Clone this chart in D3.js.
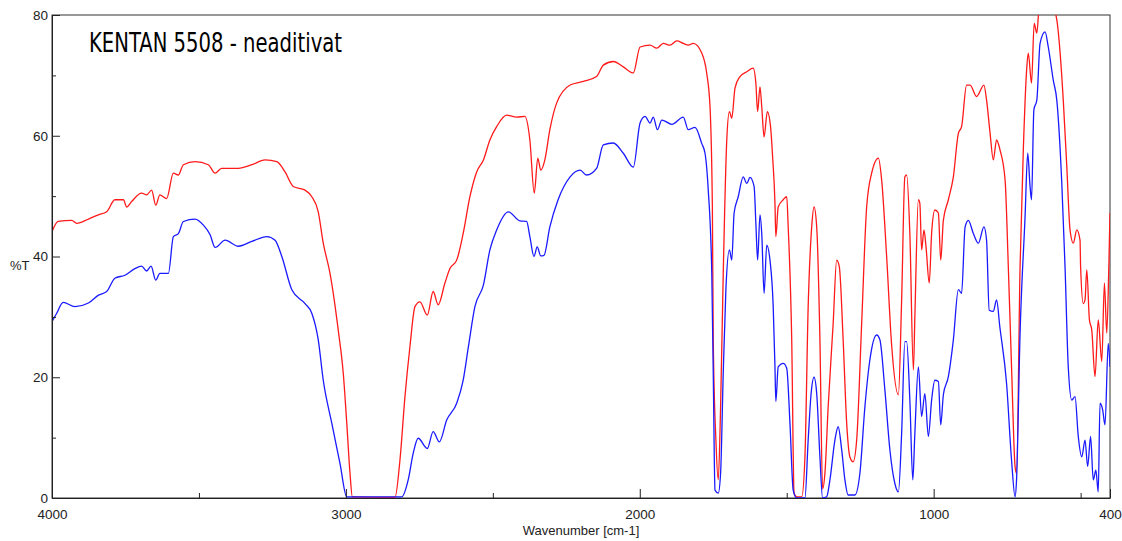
<!DOCTYPE html>
<html>
<head>
<meta charset="utf-8">
<script src="https://cdn.jsdelivr.net/npm/d3@7"></script>
<style>
  html, body { margin: 0; padding: 0; background: #fff; }
  svg { display: block; }
  .axis text { font-family: "Liberation Sans", Arial, sans-serif; font-size: 13.5px; fill: #222; }
  .axis path, .axis line { stroke: #222; }
</style>
</head>
<body>
<script>
// IR spectrum, KENTAN 5508 without additives: wavenumber [cm-1], %T
const title = "KENTAN 5508 - neaditivat";
const xLabel = "Wavenumber [cm-1]";
const yLabel = "%T";

const xMajorTicks = [4000, 3000, 2000, 1000, 400];
const xMinorTicks = [3500, 2500, 1500, 500];
const yMajorTicks = [0, 20, 40, 60, 80];
const yMinorTicks = [10, 30, 50, 70];

// red trace
const redSpectrum = [
  [4000,44.1],[3979,45.8],[3933,46.0],[3916,45.5],[3876,46.2],[3842,46.9],[3814,47.4],[3786,49.4],
  [3757,49.4],[3746,48.2],[3729,49.1],[3695,50.5],[3678,50.2],[3661,51.0],[3647,48.5],[3633,50.2],
  [3610,49.6],[3587,53.8],[3570,53.5],[3553,55.2],[3513,55.7],[3468,55.2],[3445,53.8],[3423,54.6],
  [3366,54.6],[3320,55.2],[3275,56.0],[3235,55.7],[3207,54.0],[3179,51.6],[3139,51.0],[3116,49.9],
  [3094,47.4],[3077,42.2],[3054,37.2],[3026,27.8],[3009,20.7],[2997,12.4],[2986,4.1],[2978,0.2],
  [2833,0.1],[2816,6.3],[2799,16.8],[2782,25.1],[2765,31.7],[2748,32.5],[2723,30.3],[2703,34.2],
  [2686,32.0],[2663,35.6],[2646,38.0],[2623,39.4],[2601,43.8],[2578,49.9],[2555,54.0],[2532,56.0],
  [2510,59.3],[2487,61.5],[2453,63.4],[2419,63.1],[2391,63.2],[2374,59.3],[2359,50.5],[2347,56.3],
  [2337,54.3],[2323,56.0],[2306,61.0],[2283,65.4],[2237,68.4],[2192,69.0],[2147,69.8],[2124,71.7],
  [2090,72.3],[2056,71.4],[2022,70.4],[1999,74.7],[1965,75.0],[1942,74.5],[1920,75.3],[1897,75.0],
  [1874,75.7],[1852,75.3],[1835,75.0],[1818,75.3],[1789,73.7],[1772,70.3],[1761,64.8],[1753,48.2],
  [1750,26.2],[1741,9.6],[1733,3.0],[1725,15.1],[1716,37.2],[1704,59.3],[1695,64.0],[1687,62.9],
  [1676,67.9],[1659,69.8],[1636,70.6],[1614,71.2],[1605,68.7],[1599,64.0],[1591,68.1],[1585,64.8],
  [1577,59.8],[1566,64.0],[1555,61.5],[1548,56.5],[1540,48.8],[1537,43.3],[1529,48.2],[1512,49.4],
  [1500,49.9],[1495,44.9],[1483,26.2],[1475,0.8],[1466,0.2],[1449,0.2],[1438,6.8],[1427,31.7],
  [1415,44.9],[1407,48.2],[1398,44.9],[1387,26.2],[1378,1.5],[1370,4.1],[1359,15.1],[1342,28.9],
  [1330,39.4],[1321,38.3],[1308,26.2],[1296,12.4],[1285,6.8],[1274,6.0],[1262,9.6],[1245,28.9],
  [1228,48.2],[1211,53.8],[1188,56.3],[1177,52.7],[1160,40.0],[1143,25.3],[1120,17.1],[1109,32.8],
  [1098,53.2],[1092,53.5],[1081,43.8],[1069,21.2],[1064,30.0],[1052,49.4],[1047,48.8],[1041,41.1],
  [1033,44.4],[1026,41.6],[1015,35.6],[1007,43.8],[996,47.7],[984,47.2],[976,39.4],[967,46.0],
  [950,49.4],[933,53.2],[916,60.4],[905,61.5],[888,68.4],[876,68.4],[854,66.5],[829,68.4],
  [820,65.9],[808,60.4],[797,56.0],[786,59.3],[774,57.6],[757,52.7],[746,38.3],[735,21.7],
  [723,5.2],[718,4.1],[706,38.3],[695,57.6],[683,71.4],[678,73.7],[667,68.7],[658,78.6],
  [649,77.0],[641,81],[593,81],[581,79.2],[570,73.9],[559,65.9],[547,54.9],[536,44.4],
  [525,42.2],[513,44.4],[502,42.7],[500,38.3],[491,32.2],[485,32.8],[479,37.8],[470,29.5],
  [462,27.8],[451,20.1],[440,29.5],[428,22.6],[419,35.6],[411,27.3],[404,38.3],[400,47.2]
];

// blue trace
const blueSpectrum = [
  [4000,29.2],[3984,30.6],[3962,32.4],[3922,31.7],[3876,32.3],[3842,33.6],[3814,34.2],[3786,36.4],
  [3752,36.9],[3718,38.0],[3695,38.4],[3678,37.6],[3663,38.4],[3647,36.1],[3633,37.2],[3604,37.2],
  [3587,43.3],[3570,43.8],[3553,45.8],[3513,46.2],[3485,45.2],[3462,43.6],[3445,41.5],[3411,42.7],
  [3366,41.7],[3320,42.5],[3269,43.3],[3241,42.7],[3218,40.0],[3184,34.5],[3139,32.2],[3116,30.6],
  [3094,26.2],[3077,19.5],[3048,12.4],[3020,5.7],[2997,0.2],[2810,0.2],[2788,3.0],[2771,7.4],
  [2754,9.9],[2723,8.2],[2703,11.0],[2682,9.3],[2657,12.9],[2623,15.7],[2601,19.5],[2583,25.1],
  [2561,31.7],[2532,35.3],[2510,41.1],[2487,44.4],[2447,47.4],[2408,45.9],[2385,45.8],[2374,43.3],
  [2360,40.0],[2349,41.6],[2337,40.1],[2326,40.2],[2306,44.9],[2278,49.4],[2237,53.2],[2203,54.3],
  [2181,53.5],[2147,54.6],[2124,58.5],[2090,58.8],[2056,57.1],[2022,54.8],[1999,62.1],[1982,63.2],
  [1965,62.1],[1954,63.1],[1940,61.0],[1925,62.6],[1891,61.9],[1852,63.1],[1835,61.0],[1812,61.4],
  [1789,58.7],[1778,57.1],[1767,51.0],[1755,37.2],[1750,20.7],[1744,1.3],[1733,0.8],[1725,4.1],
  [1716,20.7],[1707,34.5],[1695,41.1],[1687,39.4],[1679,47.2],[1665,49.9],[1648,53.2],[1636,52.1],
  [1625,53.1],[1611,51.6],[1605,45.5],[1599,39.4],[1591,46.9],[1585,43.8],[1577,33.9],[1568,41.9],
  [1557,39.4],[1546,31.7],[1540,21.7],[1537,16.0],[1529,21.7],[1512,22.3],[1500,21.5],[1489,12.4],
  [1478,1.3],[1466,0],[1438,0],[1427,9.6],[1417,17.3],[1407,20.0],[1398,17.3],[1387,6.8],
  [1378,0],[1364,0.2],[1353,3.0],[1336,9.6],[1325,11.8],[1313,8.0],[1302,3.0],[1291,0.5],
  [1268,0.5],[1251,4.1],[1234,15.1],[1217,22.9],[1194,27.0],[1183,26.2],[1166,17.9],[1149,8.0],
  [1132,2.4],[1120,1.0],[1109,10.7],[1098,25.9],[1092,25.9],[1081,16.2],[1071,3.0],[1064,10.7],
  [1052,21.7],[1041,13.5],[1030,17.3],[1018,10.2],[1007,16.2],[996,19.5],[984,19.3],[976,12.1],
  [967,17.1],[950,20.1],[933,26.2],[916,34.5],[905,33.9],[893,44.9],[882,46.0],[865,43.8],
  [848,42.2],[829,44.9],[820,42.7],[811,31.1],[797,30.9],[786,32.8],[775,28.4],[752,19.0],
  [735,6.3],[723,0.2],[718,3.0],[706,27.3],[689,46.6],[680,57.1],[672,51.6],[667,49.4],
  [659,64.3],[649,65.9],[638,75.3],[621,77.2],[610,74.7],[593,69.2],[581,65.9],[564,52.1],
  [553,38.3],[542,21.7],[530,16.2],[519,16.8],[508,10.2],[496,6.8],[485,9.6],[476,5.2],
  [466,10.2],[457,3.0],[448,4.6],[440,1.0],[434,15.7],[425,14.6],[417,12.1],[406,25.6],[400,21.7]
];

const width = 1122, height = 541;
const plot = { left: 52, right: 1110, top: 15, bottom: 498 };

const svg = d3.select("body").append("svg")
  .attr("width", width).attr("height", height);

const x = d3.scaleLinear().domain([4000, 400]).range([plot.left, plot.right]);
const y = d3.scaleLinear().domain([0, 80]).range([plot.bottom, plot.top]);

svg.append("defs").append("clipPath").attr("id", "plot-clip")
  .append("rect")
  .attr("x", plot.left).attr("y", plot.top)
  .attr("width", plot.right - plot.left).attr("height", plot.bottom - plot.top);

// frame
svg.append("rect")
  .attr("x", plot.left).attr("y", plot.top)
  .attr("width", plot.right - plot.left).attr("height", plot.bottom - plot.top)
  .attr("fill", "none").attr("stroke", "#333").attr("stroke-width", 1);

// wavenumber runs right-to-left, so screen x increases along each trace
const line = d3.line().x(d => x(d[0])).y(d => y(d[1])).curve(d3.curveMonotoneX);

const traces = svg.append("g").attr("clip-path", "url(#plot-clip)");
traces.append("path").datum(redSpectrum)
  .attr("d", line).attr("fill", "none").attr("stroke", "#ff1a1a")
  .attr("stroke-width", 1.3).attr("stroke-linejoin", "round");
traces.append("path").datum(blueSpectrum)
  .attr("d", line).attr("fill", "none").attr("stroke", "#1a1aff")
  .attr("stroke-width", 1.3).attr("stroke-linejoin", "round");

// x axis: inward major and minor ticks
svg.append("g").attr("class", "axis")
  .attr("transform", `translate(0,${plot.bottom})`)
  .call(d3.axisBottom(x).tickValues(xMinorTicks).tickSizeInner(-5).tickSizeOuter(0).tickFormat(""))
  .call(g => g.select(".domain").remove());
svg.append("g").attr("class", "axis")
  .attr("transform", `translate(0,${plot.bottom})`)
  .call(d3.axisBottom(x).tickValues(xMajorTicks).tickSizeInner(-9).tickSizeOuter(0)
    .tickPadding(11).tickFormat(d3.format("d")));

// y axis
svg.append("g").attr("class", "axis")
  .attr("transform", `translate(${plot.left},0)`)
  .call(d3.axisLeft(y).tickValues(yMinorTicks).tickSizeInner(-4).tickSizeOuter(0).tickFormat(""))
  .call(g => g.select(".domain").remove());
svg.append("g").attr("class", "axis")
  .attr("transform", `translate(${plot.left},0)`)
  .call(d3.axisLeft(y).tickValues(yMajorTicks).tickSizeInner(-8).tickSizeOuter(0)
    .tickPadding(4).tickFormat(d3.format("d")));

// axis titles
svg.append("text")
  .attr("x", (plot.left + plot.right) / 2).attr("y", 535)
  .attr("text-anchor", "middle")
  .style("font-family", "'Liberation Sans', Arial, sans-serif")
  .style("font-size", "13px").attr("fill", "#222")
  .text(xLabel);
svg.append("text")
  .attr("x", 10).attr("y", 270)
  .style("font-family", "'Liberation Sans', Arial, sans-serif")
  .style("font-size", "13px").attr("fill", "#222")
  .text(yLabel);

// chart title
svg.append("text")
  .attr("x", 89).attr("y", 52)
  .attr("textLength", 253).attr("lengthAdjust", "spacingAndGlyphs")
  .style("font-family", "'Liberation Sans Narrow', 'DejaVu Sans Condensed', 'Liberation Sans', sans-serif")
  .style("font-size", "26px").attr("fill", "#000")
  .text(title);
</script>
</body>
</html>
